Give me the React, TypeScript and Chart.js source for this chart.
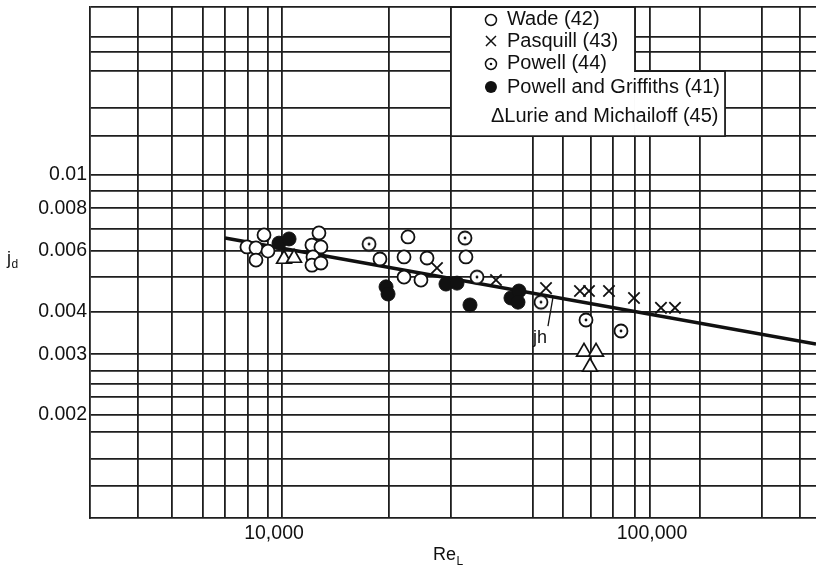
import React, { useEffect, useRef } from 'react';
import { Chart, registerables } from 'chart.js';

Chart.register(...registerables);

// ---- axis ranges ----
const X_MIN = 3260;
const X_MAX = 271600;
const Y_MIN = 0.001;
const Y_MAX = 0.0309;

// graph-paper grid lines (values)
const xGridValues = [4368, 5373, 6490, 7421, 8535, 9641, 10500, 20150, 29390, 48440, 58170, 68960, 78860, 90160, 98800, 133970, 195400, 246300];
const xLabelValues = [10000, 100000];
const xLabelTexts = ['10,000', '100,000'];

const yGridValues = [0.00124, 0.001486, 0.001781, 0.002, 0.002253, 0.002459, 0.002683, 0.003, 0.004, 0.005042, 0.006, 0.006963, 0.008, 0.008981, 0.01, 0.01299, 0.01568, 0.0201, 0.02284, 0.02526, Y_MAX];
const yLabelValues = [0.002, 0.003, 0.004, 0.006, 0.008, 0.01];
const yLabelTexts = ['0.002', '0.003', '0.004', '0.006', '0.008', '0.01'];

// ---- data ----
const wadeRe = [8480, 8960, 9410, 8960, 9640, 13150, 12600, 13310, 12680, 12600, 13310, 19070, 22620, 22080, 25400, 22080, 24480, 32200];
const wadeJd = [0.00617, 0.00613, 0.00669, 0.00565, 0.0060, 0.00678, 0.00625, 0.00617, 0.00577, 0.00546, 0.00554, 0.00569, 0.0066, 0.00577, 0.00573, 0.00504, 0.00494, 0.00577];

const pasquillRe = [26990, 38660, 52440, 64480, 68130, 76960, 89620, 105630, 115040];
const pasquillJd = [0.00536, 0.00494, 0.00468, 0.00459, 0.00459, 0.00459, 0.00438, 0.0041, 0.0041];

const powellRe = [17840, 32010, 34440, 50860, 66900, 82790];
const powellJd = [0.00629, 0.00655, 0.00504, 0.00426, 0.00378, 0.00351];

const griffRe = [10310, 10960, 19790, 20030, 28510, 30490, 33000, 42360, 44470, 44210];
const griffJd = [0.00633, 0.00651, 0.00472, 0.0045, 0.00481, 0.00484, 0.00418, 0.00438, 0.00459, 0.00426];

const lurieRe = [10630, 11300, 66090, 71120, 68550];
const lurieJd = [0.00569, 0.00573, 0.00305, 0.00305, 0.00276];

// jh correlation line
const jhRe = [7421, 271600];
const jhJd = [0.00655, 0.003216];
// leader line of the "jh" annotation
const leaderRe = [54720, 53070];
const leaderJd = [0.004407, 0.003628];
const jhLabelRe = 48440;
const jhLabelJd = 0.003237;

// legend box edges (on grid lines)
const legendLeftRe = 29390;
const legendMidRe = 90160;
const legendRightRe = 156060;
const legendStepJd = 0.0201;
const legendBottomJd = 0.01299;

const legendLabels = ['Wade (42)', 'Pasquill (43)', 'Powell (44)', 'Powell and Griffiths (41)', 'ΔLurie and Michailoff (45)'];

const FONT = "'Liberation Sans', Arial, Helvetica, sans-serif";
const INK = '#111';
const GRID = '#1e1e1e';
const GRID_W = 1.8;

const pts = (xs: number[], ys: number[]) => xs.map((x, i) => ({ x, y: ys[i] }));
const near = (a: number, b: number) => Math.abs(a - b) / b < 1e-6;

function makeDotCircle(r: number): HTMLCanvasElement {
  const size = Math.ceil(2 * r + 5);
  const c = document.createElement('canvas');
  c.width = size;
  c.height = size;
  const g = c.getContext('2d')!;
  const m = size / 2;
  g.beginPath();
  g.arc(m, m, r, 0, Math.PI * 2);
  g.fillStyle = '#fff';
  g.fill();
  g.lineWidth = 1.8;
  g.strokeStyle = INK;
  g.stroke();
  g.beginPath();
  g.arc(m, m, 1.4, 0, Math.PI * 2);
  g.fillStyle = INK;
  g.fill();
  return c;
}

export default function App() {
  const ref = useRef<HTMLCanvasElement | null>(null);

  useEffect(() => {
    if (!ref.current) return;
    const dotCircle = makeDotCircle(6.5);

    const overlay = {
      id: 'overlay',
      beforeDatasetsDraw(chart: any) {
        const { ctx, scales } = chart;
        const x = scales.x;
        const y = scales.y;
        const L = x.getPixelForValue(legendLeftRe);
        const M = x.getPixelForValue(legendMidRe);
        const R = x.getPixelForValue(legendRightRe);
        const T = y.getPixelForValue(Y_MAX);
        const S = y.getPixelForValue(legendStepJd);
        const B = y.getPixelForValue(legendBottomJd);
        ctx.save();
        ctx.fillStyle = '#fff';
        ctx.fillRect(L, T, M - L, B - T);
        ctx.fillRect(M, S, R - M, B - S);
        ctx.strokeStyle = GRID;
        ctx.lineWidth = GRID_W;
        ctx.beginPath();
        ctx.moveTo(L, T);
        ctx.lineTo(L, B);
        ctx.lineTo(R, B);
        ctx.lineTo(R, S);
        ctx.lineTo(M, S);
        ctx.lineTo(M, T);
        ctx.closePath();
        ctx.stroke();

        // legend entries
        const sx = L + 40;
        const tx = L + 56;
        const symY = [T + 13, T + 34, T + 57, T + 80];
        const baseY = [T + 18, T + 40, T + 62, T + 86, T + 115];
        ctx.lineWidth = 1.5;
        ctx.strokeStyle = INK;
        // open circle
        ctx.beginPath();
        ctx.arc(sx, symY[0], 5.5, 0, Math.PI * 2);
        ctx.stroke();
        // cross
        ctx.beginPath();
        ctx.moveTo(sx - 5, symY[1] - 5);
        ctx.lineTo(sx + 5, symY[1] + 5);
        ctx.moveTo(sx + 5, symY[1] - 5);
        ctx.lineTo(sx - 5, symY[1] + 5);
        ctx.stroke();
        // dotted circle
        ctx.beginPath();
        ctx.arc(sx, symY[2], 5.5, 0, Math.PI * 2);
        ctx.stroke();
        ctx.beginPath();
        ctx.arc(sx, symY[2], 1.3, 0, Math.PI * 2);
        ctx.fillStyle = INK;
        ctx.fill();
        // filled circle
        ctx.beginPath();
        ctx.arc(sx, symY[3], 6, 0, Math.PI * 2);
        ctx.fill();

        ctx.font = `20px ${FONT}`;
        ctx.fillStyle = INK;
        ctx.textBaseline = 'alphabetic';
        ctx.textAlign = 'left';
        for (let i = 0; i < 4; i++) ctx.fillText(legendLabels[i], tx, baseY[i]);
        ctx.fillText(legendLabels[4], sx, baseY[4]);
        ctx.restore();
      },
      afterDraw(chart: any) {
        const { ctx, scales } = chart;
        const x = scales.x;
        const y = scales.y;
        ctx.save();
        ctx.fillStyle = INK;
        ctx.textAlign = 'left';
        ctx.textBaseline = 'alphabetic';
        // jh annotation
        ctx.font = `18px ${FONT}`;
        ctx.fillText('jh', x.getPixelForValue(jhLabelRe), y.getPixelForValue(jhLabelJd));
        // y title j_d
        ctx.font = `18px ${FONT}`;
        ctx.fillText('j', 7, 264);
        const jw = ctx.measureText('j').width;
        ctx.font = `12px ${FONT}`;
        ctx.fillText('d', 7 + jw + 0.5, 268);
        // x title Re_L
        ctx.font = `18px ${FONT}`;
        ctx.fillText('Re', 433, 560);
        const rw = ctx.measureText('Re').width;
        ctx.font = `12px ${FONT}`;
        ctx.fillText('L', 433 + rw + 0.5, 565);
        ctx.restore();
      },
    };

    const chart = new Chart(ref.current, {
      type: 'scatter',
      data: {
        datasets: [
          {
            label: 'jh',
            type: 'line',
            data: pts(jhRe, jhJd),
            showLine: true,
            borderColor: INK,
            borderWidth: 3.5,
            pointRadius: 0,
            order: 10,
          } as any,
          {
            label: 'leader',
            type: 'line',
            data: pts(leaderRe, leaderJd),
            showLine: true,
            borderColor: INK,
            borderWidth: 1.3,
            pointRadius: 0,
            order: 9,
          } as any,
          {
            label: 'Wade (42)',
            data: pts(wadeRe, wadeJd),
            pointStyle: 'circle',
            pointRadius: 6.5,
            borderWidth: 1.8,
            borderColor: INK,
            backgroundColor: '#fff',
            order: 1,
          },
          {
            label: 'Pasquill (43)',
            data: pts(pasquillRe, pasquillJd),
            pointStyle: 'crossRot',
            pointRadius: 8,
            borderWidth: 1.8,
            borderColor: INK,
            backgroundColor: INK,
            order: 1,
          },
          {
            label: 'Powell (44)',
            data: pts(powellRe, powellJd),
            pointStyle: dotCircle as any,
            pointRadius: 6.5,
            order: 1,
          },
          {
            label: 'Powell and Griffiths (41)',
            data: pts(griffRe, griffJd),
            pointStyle: 'circle',
            pointRadius: 7,
            borderWidth: 1,
            borderColor: INK,
            backgroundColor: INK,
            order: 0,
          },
          {
            label: 'Lurie and Michailoff (45)',
            data: pts(lurieRe, lurieJd),
            pointStyle: 'triangle',
            pointRadius: 8.5,
            borderWidth: 1.7,
            borderColor: INK,
            backgroundColor: '#fff',
            order: 1,
          },
        ],
      },
      options: {
        animation: false,
        responsive: false,
        events: [],
        layout: { autoPadding: false, padding: { top: 7, left: 0, right: 0, bottom: 0 } },
        plugins: { legend: { display: false }, tooltip: { enabled: false } },
        scales: {
          x: {
            type: 'logarithmic',
            min: X_MIN,
            max: X_MAX,
            afterBuildTicks: (s: any) => {
              s.ticks = [...xGridValues, ...xLabelValues].sort((a, b) => a - b).map((v) => ({ value: v }));
            },
            afterFit: (s: any) => {
              s.height = 49;
              s.paddingLeft = 0;
              s.paddingRight = 0;
              s.paddingTop = 0;
              s.paddingBottom = 0;
            },
            grid: {
              drawTicks: false,
              lineWidth: GRID_W,
              color: (c: any) => {
                const v = c.tick ? c.tick.value : 0;
                return xLabelValues.some((lv) => near(v, lv)) ? 'rgba(0,0,0,0)' : GRID;
              },
            },
            border: { display: true, color: GRID, width: GRID_W },
            ticks: {
              autoSkip: false,
              maxRotation: 0,
              minRotation: 0,
              padding: 4,
              color: INK,
              font: { family: FONT, size: 19.5 },
              callback: (v: any) => {
                const i = xLabelValues.findIndex((lv) => near(Number(v), lv));
                return i >= 0 ? xLabelTexts[i] : '';
              },
            },
          },
          y: {
            type: 'logarithmic',
            min: Y_MIN,
            max: Y_MAX,
            afterBuildTicks: (s: any) => {
              s.ticks = yGridValues.map((v) => ({ value: v }));
            },
            afterFit: (s: any) => {
              s.width = 90;
              s.paddingLeft = 0;
              s.paddingRight = 0;
              s.paddingTop = 0;
              s.paddingBottom = 0;
            },
            grid: { drawTicks: false, lineWidth: GRID_W, color: GRID },
            border: { display: true, color: GRID, width: GRID_W },
            ticks: {
              autoSkip: false,
              padding: 3,
              color: INK,
              font: { family: FONT, size: 19.5 },
              callback: (v: any) => {
                const i = yLabelValues.findIndex((lv) => near(Number(v), lv));
                return i >= 0 ? yLabelTexts[i] : '';
              },
            },
          },
        },
      },
      plugins: [overlay],
    });

    return () => chart.destroy();
  }, []);

  return (
    <div style={{ position: 'fixed', left: 0, top: 0, width: 816, height: 567, background: '#fff' }}>
      <canvas ref={ref} width={816} height={567} style={{ display: 'block' }} />
    </div>
  );
}
